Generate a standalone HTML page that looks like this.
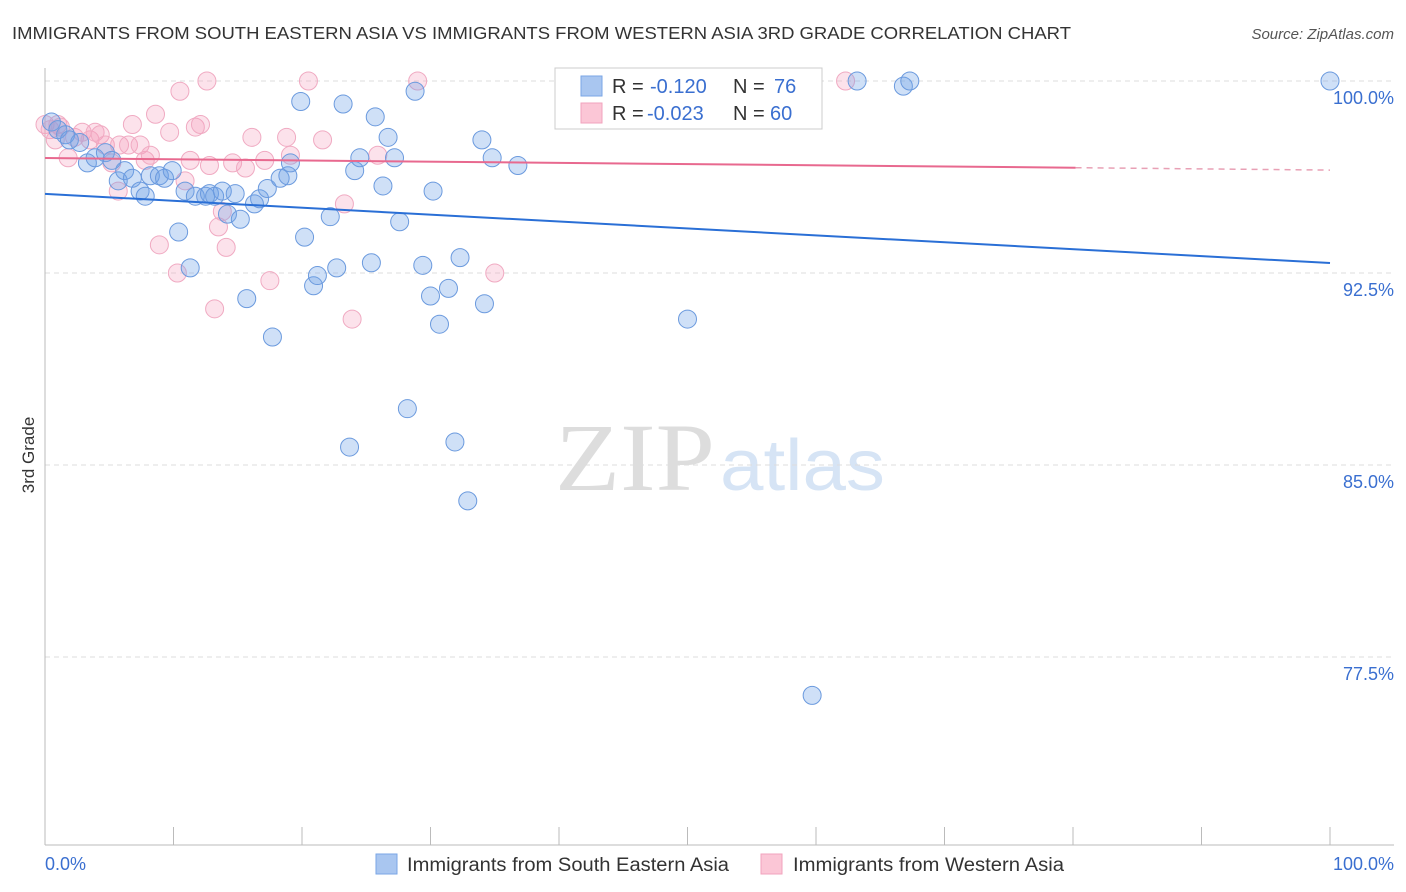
<!DOCTYPE html>
<html><head><meta charset="utf-8"><style>
body{margin:0;background:#fff;font-family:"Liberation Sans",sans-serif;}
svg{display:block}
</style></head><body>
<svg id="chart" width="1406" height="892">
<text x="12" y="39" font-size="17.5" fill="#333" textLength="1059" lengthAdjust="spacingAndGlyphs">IMMIGRANTS FROM SOUTH EASTERN ASIA VS IMMIGRANTS FROM WESTERN ASIA 3RD GRADE CORRELATION CHART</text>
<text x="1394" y="39" font-size="15" fill="#555" font-style="italic" text-anchor="end">Source: ZipAtlas.com</text>
<text x="555" y="490" font-size="96" fill="#ddd" textLength="160" lengthAdjust="spacingAndGlyphs" font-family="Liberation Serif,serif">ZIP</text>
<text x="720" y="490" font-size="72" fill="#d6e4f5" textLength="165" lengthAdjust="spacingAndGlyphs">atlas</text>
<text transform="translate(34,455) rotate(-90)" font-size="17" fill="#333" text-anchor="middle">3rd Grade</text>
<g id="grid"></g><g id="pts"></g><g id="lines"></g>
<rect x="555" y="68" width="267" height="61" fill="#fff" stroke="#ccc"/>
<rect x="581" y="76" width="21" height="20" fill="#a9c6f0" stroke="#7aa6e6"/>
<rect x="581" y="103" width="21" height="20" fill="#fbc6d6" stroke="#f2a3bd"/>
<text x="612" y="93" font-size="20" fill="#333">R =<tspan fill="#3a6fd0" x="650">-0.120</tspan><tspan x="733">N =</tspan><tspan fill="#3a6fd0" x="774">76</tspan></text>
<text x="612" y="120" font-size="20" fill="#333">R =<tspan fill="#3a6fd0" x="647">-0.023</tspan><tspan x="733">N =</tspan><tspan fill="#3a6fd0" x="770">60</tspan></text>
<rect x="376" y="854" width="21" height="20" fill="#a9c6f0" stroke="#7aa6e6"/>
<text x="407" y="871" font-size="19" fill="#333" textLength="322" lengthAdjust="spacingAndGlyphs">Immigrants from South Eastern Asia</text>
<rect x="761" y="854" width="21" height="20" fill="#fbc6d6" stroke="#f2a3bd"/>
<text x="793" y="871" font-size="19" fill="#333" textLength="271" lengthAdjust="spacingAndGlyphs">Immigrants from Western Asia</text>
<text x="45" y="870" font-size="18" fill="#3a6fd0">0.0%</text>
<text x="1394" y="870" font-size="18" fill="#3a6fd0" text-anchor="end">100.0%</text>
</svg>
<script>
const yTicks=[100,92.5,85,77.5];
const yTickLabels=["100.0%","92.5%","85.0%","77.5%"];
const blueX=[0.5,1.0,1.6,1.9,2.7,3.3,3.9,4.7,5.2,5.7,6.2,6.8,7.4,7.8,8.2,8.9,9.3,9.9,10.4,10.9,11.3,11.7,12.5,12.8,13.2,13.8,14.2,14.8,15.2,15.7,16.3,16.7,17.3,17.7,18.3,18.9,19.1,19.9,20.2,20.9,21.2,22.2,22.7,23.2,23.7,24.1,24.5,25.4,25.7,26.3,26.7,27.2,27.6,28.2,28.8,29.4,30.0,30.2,30.7,31.4,31.9,32.3,32.9,34.0,34.2,34.8,36.8,43.0,50.0,59.7,63.2,66.8,67.3,100];
const blueY=[98.4,98.1,97.9,97.7,97.6,96.8,97.0,97.2,96.9,96.1,96.5,96.2,95.7,95.5,96.3,96.3,96.2,96.5,94.1,95.7,92.7,95.5,95.5,95.6,95.5,95.7,94.8,95.6,94.6,91.5,95.2,95.4,95.8,90.0,96.2,96.3,96.8,99.2,93.9,92.0,92.4,94.7,92.7,99.1,85.7,96.5,97.0,92.9,98.6,95.9,97.8,97.0,94.5,87.2,99.6,92.8,91.6,95.7,90.5,91.9,85.9,93.1,83.6,97.7,91.3,97.0,96.7,100,90.7,76.0,100,99.8,100,100];
const pinkX=[0,0.4,0.8,1.0,1.2,1.8,2.3,2.9,3.5,3.9,4.3,4.7,5.2,5.7,5.8,6.5,6.8,7.4,7.8,8.2,8.6,8.9,9.7,10.3,10.5,10.9,11.3,11.7,12.1,12.6,12.8,13.2,13.5,13.8,14.1,14.6,15.6,16.1,17.1,17.5,18.8,19.1,20.5,21.6,23.3,23.9,25.9,29.0,35.0,62.3];
const pinkY=[98.3,98.1,97.7,98.3,98.2,97.0,97.8,98.0,97.7,98.0,97.9,97.5,96.8,95.7,97.5,97.5,98.3,97.5,96.9,97.1,98.7,93.6,98.0,92.5,99.6,96.1,96.9,98.2,98.3,100,96.7,91.1,94.3,94.9,93.5,96.8,96.6,97.8,96.9,92.2,97.8,97.1,100,97.7,95.2,90.7,97.1,100,92.5,100];
const blueTrend=[95.59,92.89];
const pinkTrend=[96.99,96.52];
const pinkSolidEnd=80.2;
const X=v=>45+v*12.85, Y=v=>81+(100-v)*25.6;
const NS="http://www.w3.org/2000/svg";
function mk(t,a,p){const e=document.createElementNS(NS,t);for(const k in a)e.setAttribute(k,a[k]);p.appendChild(e);return e;}
const grid=document.getElementById('grid');
yTicks.forEach((t,i)=>{
 const l=mk('line',{x1:45,x2:1394,y1:Y(t),y2:Y(t),stroke:'#ddd','stroke-dasharray':'5,4'},grid);
 
 
 const tx=mk('text',{x:1394,y:Y(t)+23,'font-size':18,fill:'#3a6fd0','text-anchor':'end'},grid);
 tx.textContent=yTickLabels[i];
 
 
});
const ax=mk('line',{x1:45,x2:1394,y1:845,y2:845,stroke:'#bbb'},grid);


const ay=mk('line',{x1:45,x2:45,y1:68,y2:845,stroke:'#bbb'},grid);


for(let i=0;i<=10;i++){const t=mk('line',{x1:X(i*10),x2:X(i*10),y1:827,y2:845,stroke:'#bbb'},grid);
 
 }
const pts=document.getElementById('pts');
function draw(xs,ys,fill,stroke,name){xs.forEach((x,i)=>{const c=mk('circle',{cx:X(x),cy:Y(ys[i]),r:9,fill:fill,stroke:stroke,'stroke-width':1},pts);
 
 });}
draw(pinkX,pinkY,'rgba(244,160,188,0.3)','#f0aac2','pink-point');
draw(blueX,blueY,'rgba(110,160,230,0.33)','#6b9ade','blue-point');
const lines=document.getElementById('lines');
const bl=mk('line',{x1:X(0),y1:Y(blueTrend[0]),x2:X(100),y2:Y(blueTrend[1]),stroke:'#2a6fd6','stroke-width':2},lines);


const pm=pinkTrend[0]+(pinkTrend[1]-pinkTrend[0])*pinkSolidEnd/100;
const pl=mk('line',{x1:X(0),y1:Y(pinkTrend[0]),x2:X(pinkSolidEnd),y2:Y(pm),stroke:'#e8698f','stroke-width':2},lines);


const pd=mk('line',{x1:X(pinkSolidEnd),y1:Y(pm),x2:X(100),y2:Y(pinkTrend[1]),stroke:'#e8a0b5','stroke-width':1.5,'stroke-dasharray':'6,5'},lines);


</script>
</body></html>
